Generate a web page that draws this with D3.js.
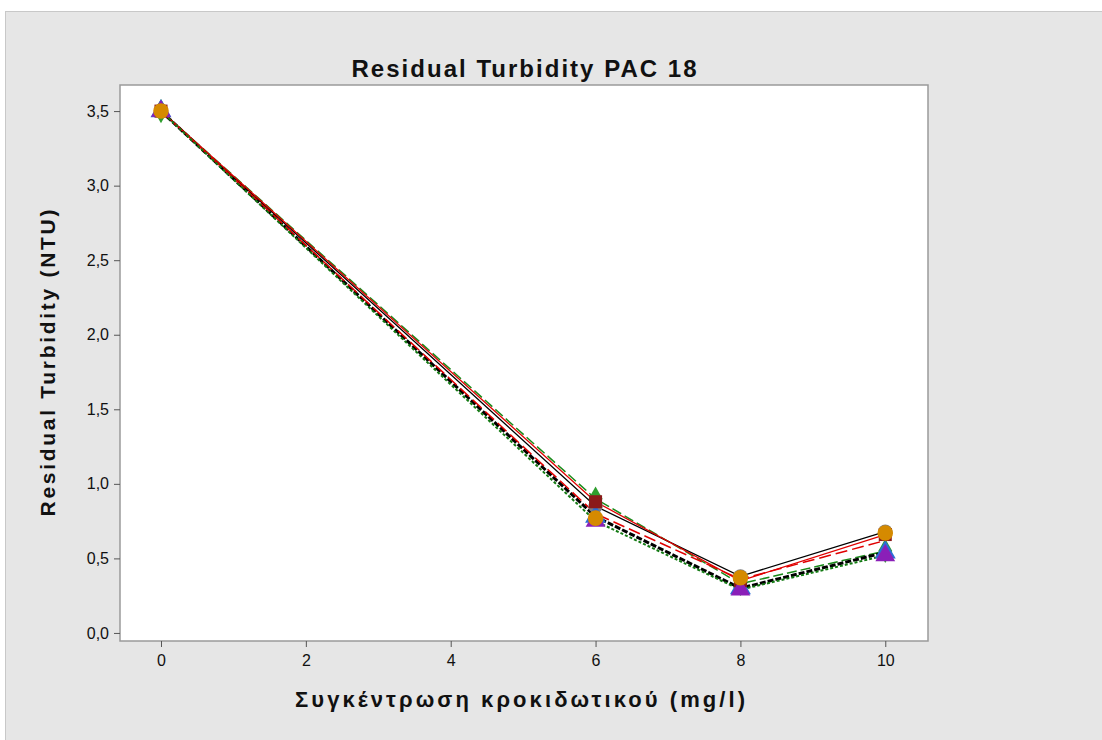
<!DOCTYPE html>
<html><head><meta charset="utf-8">
<script src="https://cdn.jsdelivr.net/npm/d3@7"></script>
<style>body{margin:0;background:#fff}svg{display:block}</style>
</head><body><svg id="c" width="1102" height="740"></svg>
<script>
const dose = [0, 6, 8, 10];
const xTicks = [0, 2, 4, 6, 8, 10];
const yTicks = [0, 0.5, 1.0, 1.5, 2.0, 2.5, 3.0, 3.5];
const sBlackSolid = [3.5, 0.85, 0.38, 0.68];
const sRedSolid   = [3.5, 0.88, 0.35, 0.66];
const sGreenDash  = [3.5, 0.90, 0.33, 0.55];
const sBlackDash  = [3.5, 0.78, 0.30, 0.54];
const sRedDash    = [3.5, 0.80, 0.36, 0.62];
const sGreenDash2 = [3.5, 0.75, 0.29, 0.52];
const sOrange     = [3.5, 0.77, 0.37, 0.67];
const title = "Residual Turbidity PAC 18";
const xLabel = "Συγκέντρωση κροκιδωτικού (mg/l)";
const yLabel = "Residual Turbidity (NTU)";

const series = [
  {v: sGreenDash, line: "#1a8a1a", w: 1.5, dash: "10,4", sym: d3.symbolDiamond, fill: "#2e9e2e", size: 170},
  {v: sBlackSolid, line: "#000", w: 1.3, dash: null, sym: d3.symbolCircle, fill: "#7f7f7f", size: 160},
  {v: sBlackDash, line: "#000", w: 3, dash: "6,2", sym: d3.symbolTriangle, fill: "#2b6fd6", size: 190},
  {v: sRedSolid, line: "#e00000", w: 1.3, dash: null, sym: d3.symbolSquare, fill: "#8b1a1a", size: 170},
  {v: sRedDash, line: "#e00000", w: 1.5, dash: "12,5", sym: null},
  {v: sGreenDash2, line: "#137a13", w: 2, dash: "3,2", sym: d3.symbolTriangle, fill: "#8a1fb8", size: 170},
  {v: sOrange, line: null, sym: d3.symbolCircle, fill: "#d58a00", size: 190}
];

const svg = d3.select("#c");
svg.append("rect").attr("x",5.5).attr("y",11.5).attr("width",1100).attr("height",730)
  .attr("fill","#e6e6e6").attr("stroke","#c8c8c8");

const L=120, R=928, T=85, B=641;
svg.append("rect").attr("x",L).attr("y",T).attr("width",R-L).attr("height",B-T)
  .attr("fill","#fff").attr("stroke","#9a9a9a").attr("stroke-width",1.5);

const x = d3.scaleLinear().domain([-0.566, 10.59]).range([L, R]);
const y = d3.scaleLinear().domain([-0.054, 3.675]).range([B, T]);

const FF = "Liberation Sans, Arial, sans-serif";
const fmt = d => d3.format(".1f")(d).replace(".", ",");
const xa = svg.append("g").attr("transform",`translate(0,${B})`)
  .call(d3.axisBottom(x).tickValues(xTicks).tickSize(6).tickPadding(8).tickFormat(d3.format("d")));
const ya = svg.append("g").attr("transform",`translate(${L},0)`)
  .call(d3.axisLeft(y).tickValues(yTicks).tickSize(6).tickPadding(5).tickFormat(fmt));
[xa, ya].forEach(a => {
  a.select(".domain").remove();
  a.selectAll("line").attr("stroke","#555");
  a.selectAll("text").attr("font-family",FF).attr("font-size",16).attr("fill","#111");
});

const plot = svg.append("g");
const line = d3.line().x((d,i)=>x(dose[i])).y(d=>y(d));
series.forEach(s => {
  if (s.line) plot.append("path").attr("d", line(s.v)).attr("fill","none")
    .attr("stroke", s.line).attr("stroke-width", s.w).attr("stroke-dasharray", s.dash);
});
series.forEach(s => {
  if (!s.sym) return;
  plot.selectAll(null).data(s.v).enter().append("path")
    .attr("d", d3.symbol().type(s.sym).size(s.size))
    .attr("transform",(d,i)=>`translate(${x(dose[i])},${y(d)})`)
    .attr("fill", s.fill);
});

svg.append("text").attr("x",(L+R)/2).attr("y",77).attr("text-anchor","middle")
  .attr("font-family",FF).attr("font-weight","bold").attr("font-size",24)
  .attr("textLength",345).attr("lengthAdjust","spacing")
  .attr("fill","#111").text(title);
svg.append("text").attr("x",520).attr("y",707).attr("text-anchor","middle")
  .attr("font-family",FF).attr("font-weight","bold").attr("font-size",22)
  .attr("textLength",450).attr("lengthAdjust","spacing")
  .attr("fill","#111").text(xLabel);
svg.append("text").attr("transform",`translate(55,${(T+B)/2}) rotate(-90)`).attr("text-anchor","middle")
  .attr("font-family",FF).attr("font-weight","bold").attr("font-size",21)
  .attr("textLength",307).attr("lengthAdjust","spacing")
  .attr("fill","#111").text(yLabel);
</script></body></html>
